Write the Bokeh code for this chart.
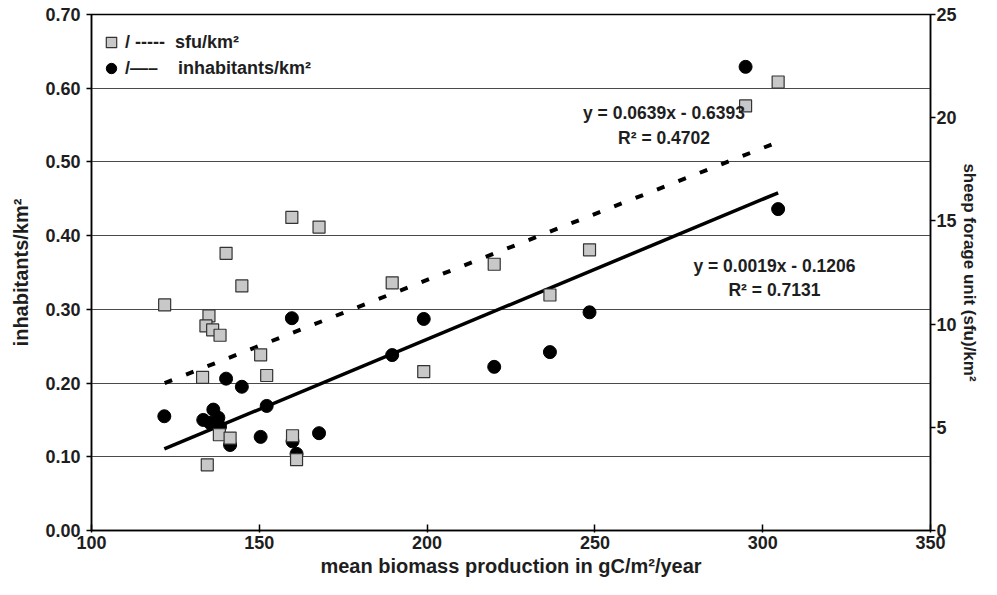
from bokeh.plotting import figure
from bokeh.models import (Range1d, LinearAxis, FixedTicker, NumeralTickFormatter,
                          Label, Legend, LegendItem)
from bokeh.embed import file_html
from bokeh.resources import INLINE

# ---- data ----
x_inh = [121.7, 133.3, 135.3, 136.3, 137.8, 138.3, 140.1, 141.3, 144.8, 150.4, 152.2,
         159.7, 159.9, 161.1, 167.8, 189.6, 199.0, 220.0, 236.6, 248.4, 294.9, 304.6]
inhabitants = [0.155, 0.150, 0.146, 0.164, 0.153, 0.141, 0.206, 0.116, 0.195, 0.127, 0.169,
               0.288, 0.121, 0.104, 0.132, 0.238, 0.287, 0.222, 0.242, 0.296, 0.629, 0.436]

x_sfu = [121.8, 133.1, 134.5, 135.0, 134.1, 136.1, 138.3, 138.1, 140.1, 141.3, 144.8, 150.4,
         152.2, 159.7, 159.9, 161.1, 167.8, 189.6, 199.0, 220.0, 236.6, 248.4, 294.9, 304.6]
sfu = [10.93, 7.42, 3.18, 10.40, 9.91, 9.72, 9.46, 4.64, 13.43, 4.48, 11.85, 8.51,
       7.51, 15.17, 4.59, 3.43, 14.7, 12.0, 7.70, 12.9, 11.41, 13.6, 20.57, 21.73]

# trend lines (from the equations shown on the chart)
sfu_slope, sfu_intercept, sfu_r2 = 0.0639, -0.6393, 0.4702
inh_slope, inh_intercept, inh_r2 = 0.0019, -0.1206, 0.7131

x_ticks = [100, 150, 200, 250, 300, 350]
left_ticks = [0.0, 0.1, 0.2, 0.3, 0.4, 0.5, 0.6, 0.7]
right_ticks = [0, 5, 10, 15, 20, 25]

FONT = "Liberation Sans"
TXT = "#1e1e1e"

p = figure(width=981, height=579, output_backend="svg", toolbar_location=None,
           x_range=Range1d(100, 350), y_range=Range1d(0, 0.7),
           min_border_left=91, min_border_right=48, min_border_top=14, min_border_bottom=48)
p.extra_y_ranges = {"sfu": Range1d(0, 25)}
p.outline_line_color = "black"
p.outline_line_width = 1.5

p.xaxis.ticker = FixedTicker(ticks=x_ticks)
p.yaxis.ticker = FixedTicker(ticks=left_ticks)
p.yaxis.formatter = NumeralTickFormatter(format="0.00")
p.xaxis.axis_label = "mean biomass production in gC/m\u00b2/year"
p.yaxis.axis_label = "inhabitants/km\u00b2"

right = LinearAxis(y_range_name="sfu", ticker=FixedTicker(ticks=right_ticks),
                   axis_label="sheep forage unit (sfu)/km\u00b2")
p.add_layout(right, "right")

for ax in [p.xaxis[0], p.yaxis[0], right]:
    ax.major_label_text_font = FONT
    ax.major_label_text_font_style = "bold"
    ax.major_label_text_font_size = "18px"
    ax.major_label_text_color = TXT
    ax.axis_label_text_font = FONT
    ax.axis_label_text_font_style = "bold"
    ax.axis_label_text_font_size = "20px"
    ax.axis_label_text_color = TXT
    ax.axis_line_color = "black"
    ax.axis_line_width = 1.5
    ax.major_tick_line_color = "black"
    ax.major_tick_line_width = 1.5
    ax.minor_tick_line_color = None

p.xaxis.major_tick_in = 6
p.xaxis.major_tick_out = 2
p.xaxis.major_label_standoff = 3
p.xaxis.axis_label_standoff = 3
p.yaxis.major_tick_in = 0
p.yaxis.major_tick_out = 5
p.yaxis.major_label_standoff = 6
p.yaxis.axis_label_standoff = 10
right.major_tick_in = 0
right.major_tick_out = 5
right.major_label_standoff = 1
right.axis_label_standoff = 0
right.axis_label_text_font_size = "17px"

p.xgrid.grid_line_color = None
p.ygrid.ticker = FixedTicker(ticks=left_ticks)
p.ygrid.grid_line_color = "#4a4a4a"
p.ygrid.grid_line_width = 1

# trend lines
xs_sfu_line = [min(x_sfu), max(x_sfu)]
ys_sfu_line = [sfu_slope * v + sfu_intercept for v in xs_sfu_line]
xs_inh_line = [min(x_inh), max(x_inh)]
ys_inh_line = [inh_slope * v + inh_intercept for v in xs_inh_line]

p.line(xs_sfu_line, ys_sfu_line, y_range_name="sfu", line_color="black",
       line_width=4, line_dash="8 15")
p.line(xs_inh_line, ys_inh_line, line_color="black", line_width=3.5)

circ = p.scatter(x_inh, inhabitants, marker="circle", size=13,
                 fill_color="black", line_color="black")
sq = p.scatter(x_sfu, sfu, y_range_name="sfu", marker="square", size=12,
               fill_color="#c8c8c8", line_color="#333333", line_width=1.2)

legend = Legend(items=[LegendItem(label="/ -----  sfu/km\u00b2", renderers=[sq]),
                       LegendItem(label="/\u2014\u2013    inhabitants/km\u00b2", renderers=[circ])],
                location=(6, 449))
legend.background_fill_alpha = 0
legend.border_line_color = None
legend.margin = 0
legend.padding = 4
legend.glyph_width = 28
legend.glyph_height = 26
legend.label_height = 26
legend.label_standoff = 0
legend.spacing = -3
legend.label_text_font = FONT
legend.label_text_font_style = "bold"
legend.label_text_font_size = "18px"
legend.label_text_color = TXT
p.add_layout(legend)


def eq_label(x, y, text):
    lab = Label(x=x, y=y, text=text, text_font=FONT, text_font_style="bold",
                text_font_size="17.5px", text_color=TXT, text_align="center",
                text_baseline="middle")
    p.add_layout(lab)


eq_label(270.6, 0.566, f"y = {sfu_slope}x - {abs(sfu_intercept)}")
eq_label(270.6, 0.532, f"R\u00b2 = {sfu_r2}")
eq_label(303.5, 0.359, f"y = {inh_slope}x - {abs(inh_intercept)}")
eq_label(303.5, 0.326, f"R\u00b2 = {inh_r2}")

open("out.html", "w").write(file_html(p, INLINE))
